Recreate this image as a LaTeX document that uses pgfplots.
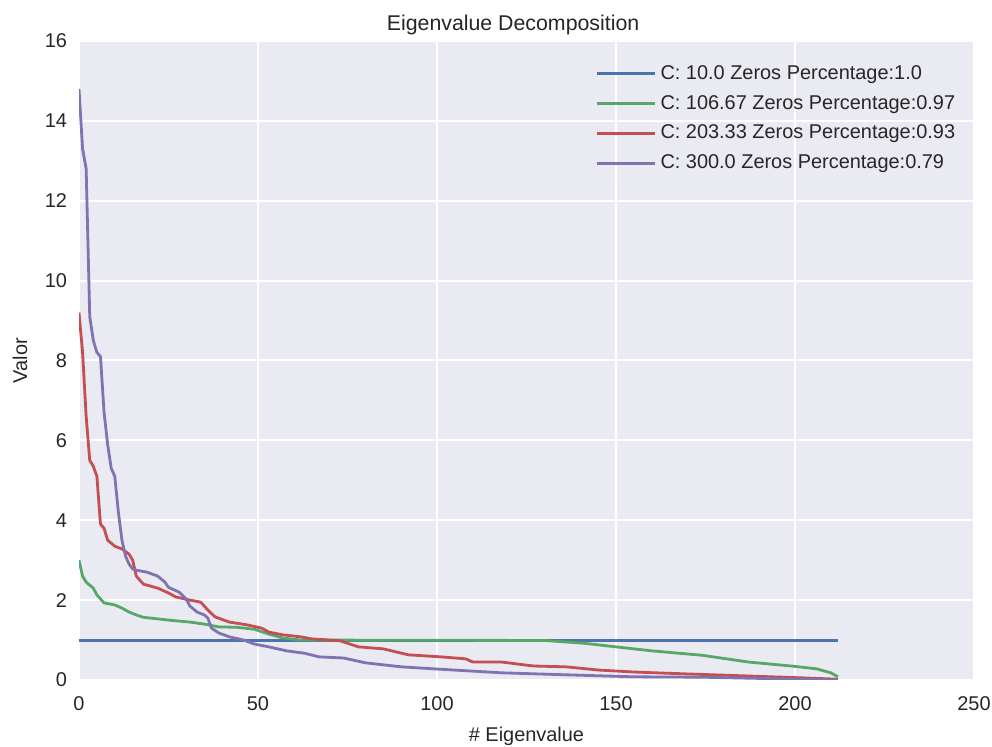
\documentclass[border=0pt]{standalone}
\usepackage{fontspec}
\setmainfont{Liberation Sans}
\usepackage{pgfplots}
\pgfplotsset{compat=1.18}
\definecolor{sbblue}{HTML}{4C72B0}
\definecolor{sbgreen}{HTML}{55A868}
\definecolor{sbred}{HTML}{C44E52}
\definecolor{sbpurple}{HTML}{8172B2}
\definecolor{sbbg}{HTML}{EAEAF2}
\definecolor{txt}{HTML}{262626}
\begin{document}
\begin{tikzpicture}
\begin{axis}[
  at={(0,0)}, anchor=south west,
  scale only axis, width=447.5bp, height=319.5bp,
  xmin=0, xmax=250, ymin=0, ymax=16,
  xtick={0,50,100,150,200,250},
  ytick={0,2,4,6,8,10,12,14,16},
  /pgf/number format/assume math mode=true,
  tick style={draw=none},
  axis line style={draw=none},
  axis background/.style={fill=sbbg},
  grid=major,
  grid style={white, line width=1bp},
  font=\fontsize{10}{12}\selectfont,
  ticklabel style={font=\fontsize{10}{12}\selectfont, text=txt},
  xticklabel style={yshift=-5bp},
  yticklabel style={xshift=-2.5bp},
  title={Eigenvalue Decomposition},
  title style={at={(axis description cs:0.485,1)}, anchor=base, yshift=-0.5bp, font=\fontsize{10.7}{13}\selectfont, text=txt},
  xlabel={\# Eigenvalue},
  xlabel style={at={(axis description cs:0.5,0)}, anchor=base, yshift=-30.5bp, text=txt},
  ylabel={Valor},
  ylabel style={at={(axis description cs:-0.058,0.5)}, anchor=base, rotate=0, text=txt},
  legend cell align=left,
  legend style={draw=none, fill=none, at={(axis description cs:0.57,0.975)}, anchor=north west, font=\fontsize{10}{12}\selectfont, text=txt, row sep=2.5bp},
  legend image code/.code={\draw[#1, line width=1.4bp] (0bp,0bp) -- (20bp,0bp); \path (0bp,0bp) -- (29bp,0bp);},
  every axis plot/.append style={line width=1.4bp, line join=round},
]
\addplot[sbblue, line width=1.5bp] coordinates {(0,1.0) (212,1.0)};
\addlegendentry{C: 10.0 Zeros Percentage:1.0}
\addplot[sbgreen] coordinates {
(0,3.0)(1,2.6)(2,2.45)(4,2.3)(5,2.13)(7,1.93)(10,1.88)(12,1.8)(14,1.7)(16,1.63)(18,1.57)(25,1.5)(31,1.45)(35,1.4)(39,1.33)(44,1.32)(49,1.27)(53,1.15)(57,1.05)(62,1.0)(130,0.99)(141,0.92)(150,0.83)(160,0.73)(174,0.62)(187,0.45)(199,0.35)(206,0.28)(210,0.18)(212,0.08)};
\addlegendentry{C: 106.67 Zeros Percentage:0.97}
\addplot[sbred] coordinates {
(0,9.2)(1,8.2)(2,6.6)(3,5.5)(4,5.35)(5,5.1)(6,3.9)(7,3.8)(8,3.5)(10,3.35)(12,3.28)(14,3.15)(15,3.0)(16,2.6)(18,2.4)(22,2.3)(25,2.18)(27,2.08)(31,2.0)(34,1.95)(36,1.75)(38,1.58)(42,1.45)(47,1.38)(51,1.3)(53,1.2)(57,1.13)(62,1.08)(65,1.03)(73,0.98)(78,0.83)(85,0.78)(92,0.63)(101,0.58)(108,0.53)(110,0.45)(118,0.45)(127,0.35)(136,0.33)(145,0.25)(155,0.2)(164,0.17)(174,0.14)(187,0.1)(200,0.06)(212,0.02)};
\addlegendentry{C: 203.33 Zeros Percentage:0.93}
\addplot[sbpurple] coordinates {
(0,14.8)(1,13.3)(2,12.8)(3,9.1)(4,8.5)(5,8.2)(6,8.1)(7,6.7)(8,5.9)(9,5.3)(10,5.1)(11,4.2)(12,3.5)(13,3.1)(14,2.9)(15,2.78)(16,2.75)(19,2.7)(22,2.6)(24,2.45)(25,2.32)(28,2.2)(30,2.02)(31,1.85)(33,1.7)(35,1.63)(36,1.55)(37,1.3)(39,1.18)(42,1.08)(46,1.0)(49,0.9)(53,0.83)(58,0.73)(63,0.67)(67,0.58)(74,0.55)(80,0.43)(90,0.33)(99,0.28)(118,0.18)(136,0.13)(155,0.08)(174,0.07)(190,0.04)(212,0.0)};
\addlegendentry{C: 300.0 Zeros Percentage:0.79}
\end{axis}
\pgfresetboundingbox
\path[use as bounding box] (-39.5bp,-33.5bp) rectangle (456.5bp,340bp);
\end{tikzpicture}
\end{document}
